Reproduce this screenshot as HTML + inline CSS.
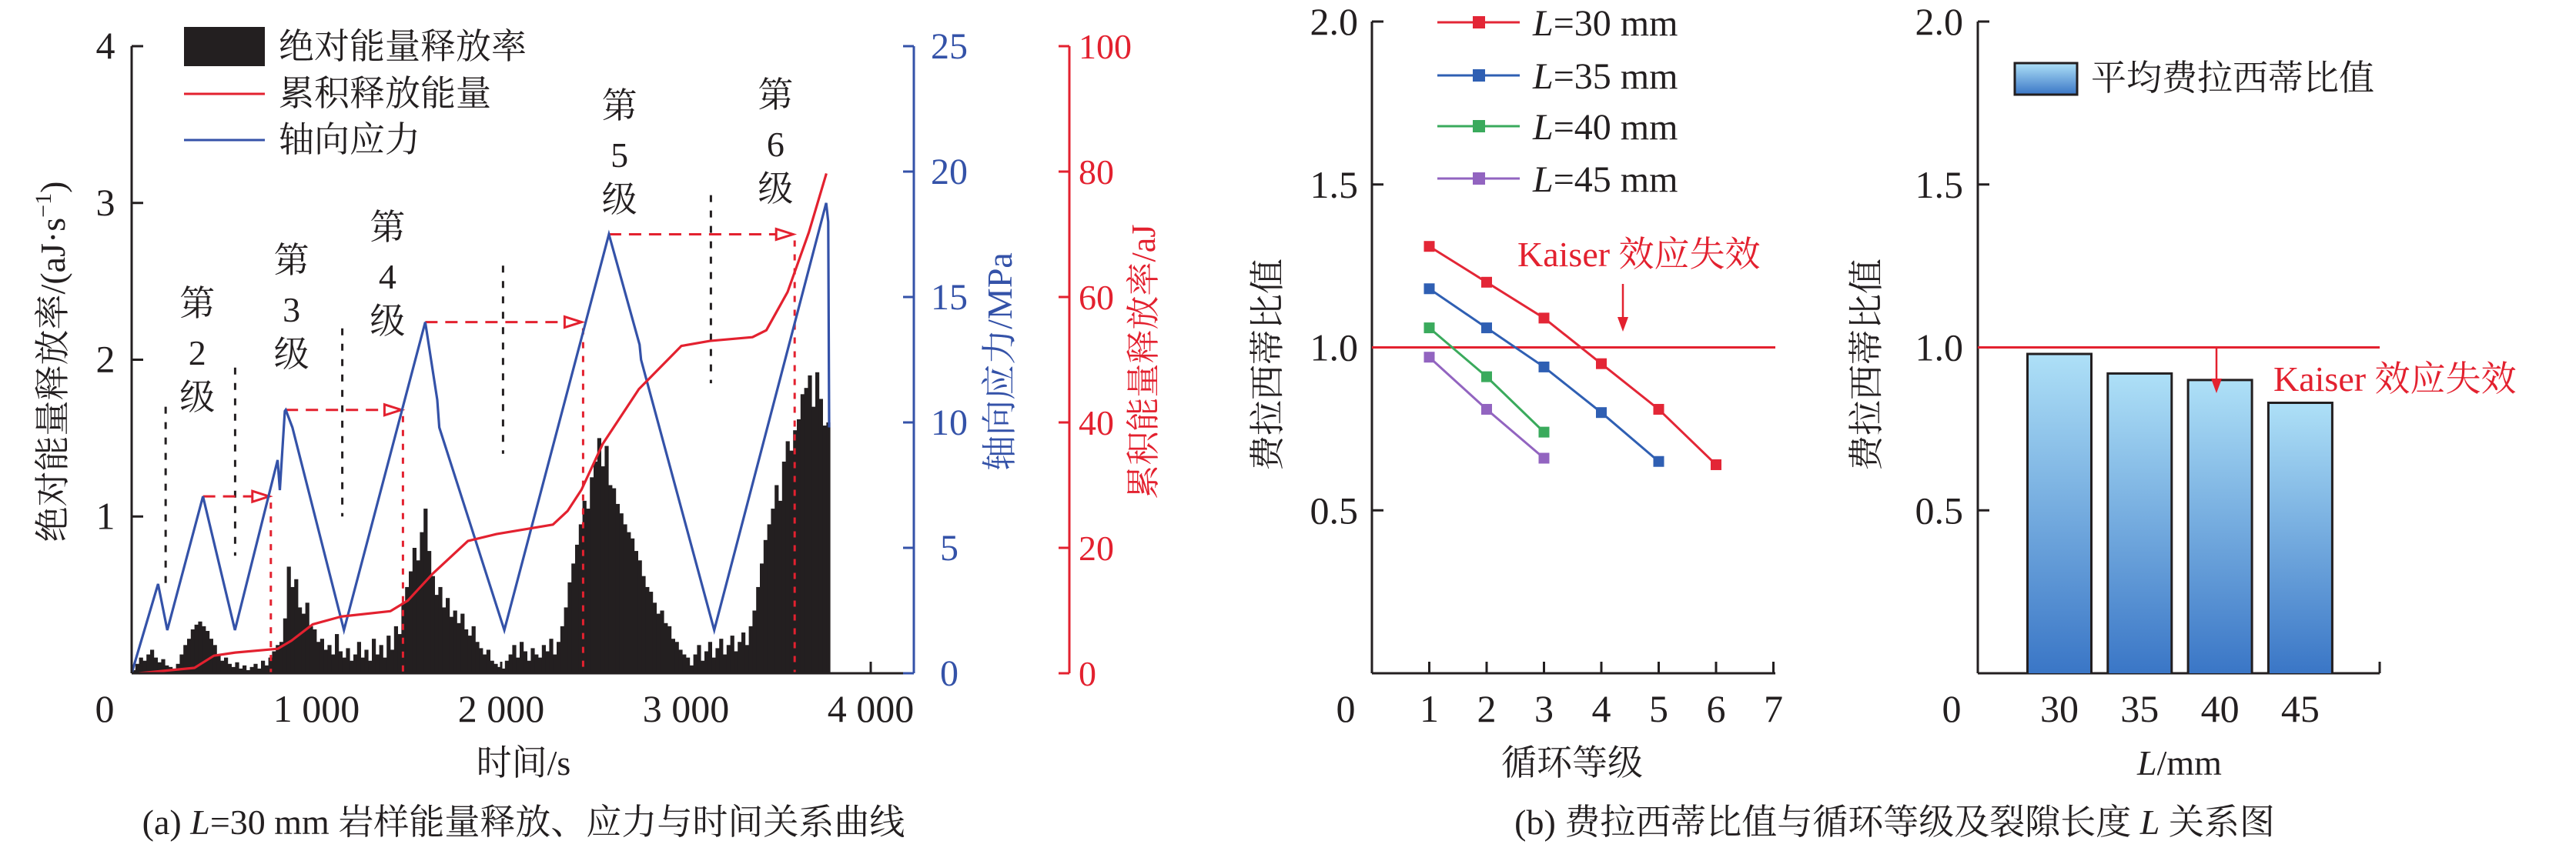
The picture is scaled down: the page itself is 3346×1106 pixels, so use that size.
<!DOCTYPE html>
<html><head><meta charset="utf-8">
<style>
html,body{margin:0;padding:0;background:#fff;}
svg{display:block;}
text{font-family:"Liberation Serif","Noto Serif CJK SC",serif;}
</style></head>
<body>
<svg id="chart" width="3346" height="1106" viewBox="0 0 3346 1106" xmlns="http://www.w3.org/2000/svg">
<defs>
<linearGradient id="barGrad" x1="0" y1="0" x2="0" y2="1">
<stop offset="0" stop-color="#aee0f7"/><stop offset="1" stop-color="#3a76c6"/>
</linearGradient>
</defs>
<g id="panelA"></g>
<g id="panelB"></g>
</svg>
<script>
// ---------- Panel (a) data ----------
const rateStep = 20; // seconds per bin
const rateValues = [
0.02,0.06,0.1,0.08,0.12,0.15,0.1,0.07,0.09,0.05,
0.04,0.03,0.06,0.12,0.18,0.22,0.28,0.31,0.33,0.3,
0.27,0.22,0.18,0.12,0.08,0.1,0.06,0.04,0.07,0.03,
0.05,0.02,0.04,0.06,0.03,0.08,0.05,0.1,0.14,0.18,
0.2,0.35,0.68,0.55,0.6,0.42,0.38,0.45,0.3,0.28,
0.2,0.22,0.15,0.18,0.12,0.25,0.14,0.1,0.16,0.08,
0.12,0.2,0.1,0.15,0.08,0.22,0.12,0.18,0.1,0.24,
0.15,0.3,0.25,0.45,0.55,0.65,0.8,0.72,0.9,1.05,
0.78,0.62,0.5,0.55,0.42,0.48,0.36,0.4,0.32,0.38,
0.28,0.24,0.3,0.2,0.16,0.12,0.15,0.08,0.06,0.04,
0.03,0.08,0.12,0.18,0.1,0.2,0.14,0.08,0.16,0.12,
0.1,0.18,0.14,0.22,0.12,0.2,0.3,0.42,0.58,0.7,
0.82,0.95,1.1,1.05,1.25,1.35,1.5,1.32,1.45,1.2,
1.18,1.08,1.02,0.95,0.9,0.86,0.78,0.72,0.62,0.55,
0.52,0.45,0.38,0.4,0.32,0.3,0.22,0.2,0.15,0.12,
0.1,0.05,0.12,0.18,0.08,0.14,0.2,0.1,0.16,0.22,
0.12,0.18,0.24,0.14,0.2,0.26,0.18,0.3,0.4,0.55,
0.7,0.85,0.95,1.05,1.2,1.1,1.35,1.48,1.42,1.55,
1.62,1.78,1.82,1.9,1.7,1.92,1.75,1.58,1.6];
const stressTimes = [0,143,193,386,559,790,802,829,834,870,1149,1589,1654,1665,2017,2583,2749,2757,3153,3759,3770,3775];
const stressValues = [0,3.56,1.72,7.05,1.72,8.5,7.3,10.45,10.5,9.8,1.72,14.0,10.9,9.8,1.72,17.5,13.1,12.5,1.72,18.75,18.0,9.8];
const cumTimes = [40,340,445,560,790,865,980,1135,1400,1495,1630,1820,1975,2280,2360,2435,2550,2745,2975,3130,3360,3435,3550,3665,3760];
const cumValues = [0,0.86,2.8,3.3,3.9,5.2,7.8,9.05,9.9,11.6,15.9,21.1,22.2,23.7,25.9,29.3,36.6,45.3,52.2,53,53.6,54.7,60.8,70.3,79.7];
const xTicksA = [0,1000,2000,3000,4000];
const xTickLabelsA = ["0","1 000","2 000","3 000","4 000"];
const leftTicks = [1,2,3,4];
const blueTicks = [0,5,10,15,20,25];
const redTicks = [0,20,40,60,80,100];
const boundaryTimes = [184,560,1140,2010,3135];
const boundaryTop = [1.7,1.95,2.2,2.6,3.05];
const boundaryBottom = [0.55,0.75,1.0,1.4,1.85];
const arrowStart = [386,834,1589,2583];
const arrowEnd = [745,1460,2435,3580];
const arrowStress = [7.05,10.5,14.0,17.5];
const levelTimes = [355,865,1385,2640,3485];
const levelNames = ["2","3","4","5","6"];
const levelTop = [394,338,295,137,123];

// ---------- Panel (b) data ----------
const cycleLevels = [1,2,3,4,5,6];
const seriesL30 = [1.31,1.20,1.09,0.95,0.81,0.64];
const seriesL35 = [1.18,1.06,0.94,0.80,0.65];
const seriesL40 = [1.06,0.91,0.74];
const seriesL45 = [0.97,0.81,0.66];
const seriesColors = ["#e32636","#2f5fb3","#3aaa5c","#9264c0"];
const seriesNames = ["L=30 mm","L=35 mm","L=40 mm","L=45 mm"];
const barCategories = ["30","35","40","45"];
const barValues = [0.98,0.92,0.90,0.83];
const yTicksB = [0.5,1.0,1.5,2.0];
const yTickLabelsB = ["0.5","1.0","1.5","2.0"];
const xTicksB = [1,2,3,4,5,6,7];

const NS="http://www.w3.org/2000/svg";
function mk(parent,tag,attrs,txt){const e=document.createElementNS(NS,tag);for(const k in attrs)e.setAttribute(k,attrs[k]);if(txt!==undefined)e.textContent=txt;parent.appendChild(e);return e;}

// scales (a)
const xA=t=>171+t*0.24;
const yL=v=>875-v*203.75;
const yBl=s=>875-s*32.6;
const yR=e=>875-e*8.15;
const BLUE="#3452a8", RED="#e3212f", DARK="#231f20";

const A=document.getElementById('panelA');
const barsG=mk(A,'g',{});


rateValues.forEach((v,i)=>{
  const x0=xA(i*rateStep), x1=xA((i+1)*rateStep);
  const r=mk(barsG,'rect',{x:x0,y:yL(v),width:x1-x0+0.4,height:875-yL(v),fill:DARK});
  
  
});
boundaryTimes.forEach((t,i)=>{
  const l=mk(A,'line',{x1:xA(t),x2:xA(t),y1:yL(boundaryTop[i]),y2:yL(boundaryBottom[i]),stroke:DARK,'stroke-width':3,'stroke-dasharray':'9 11'});
  
  
});
arrowStart.forEach((t,i)=>{
  const y=yBl(arrowStress[i]);
  const l=mk(A,'line',{x1:xA(t),x2:xA(arrowEnd[i])-22,y1:y,y2:y,stroke:RED,'stroke-width':3,'stroke-dasharray':'16 10'});
  
  
  const xe=xA(arrowEnd[i]);
  const h=mk(A,'polygon',{points:`${xe},${y} ${xe-22},${y-7} ${xe-22},${y+7}`,fill:'#fff',stroke:RED,'stroke-width':3});
  
  
  const v=mk(A,'line',{x1:xe+2,x2:xe+2,y1:y+8,y2:875,stroke:RED,'stroke-width':3,'stroke-dasharray':'8 10'});
  
  
});
const sp=mk(A,'polyline',{points:stressTimes.map((t,i)=>xA(t)+','+yBl(stressValues[i])).join(' '),fill:'none',stroke:BLUE,'stroke-width':3.2});


const cp=mk(A,'polyline',{points:cumTimes.map((t,i)=>xA(t)+','+yR(cumValues[i])).join(' '),fill:'none',stroke:RED,'stroke-width':3.2,'stroke-linejoin':'round'});


const axA=mk(A,'g',{stroke:DARK,'stroke-width':3});


mk(axA,'line',{x1:171,y1:875,x2:171,y2:60});
mk(axA,'line',{x1:171,y1:875,x2:1187,y2:875});
leftTicks.forEach(v=>mk(axA,'line',{x1:171,x2:186,y1:yL(v),y2:yL(v)}));
xTicksA.forEach(t=>mk(axA,'line',{x1:xA(t),x2:xA(t),y1:875,y2:860}));
leftTicks.forEach(v=>{
  const tx=mk(A,'text',{x:137,y:yL(v)+16,'font-size':50,'text-anchor':'middle',fill:DARK},String(v));
  
  
});
xTicksA.forEach((t,i)=>{
  const tx=mk(A,'text',{x:i===0?136:xA(t),y:938,'font-size':50,'text-anchor':'middle',fill:DARK},xTickLabelsA[i]);
  
  
});
const bx=mk(A,'g',{stroke:BLUE,'stroke-width':3});


mk(bx,'line',{x1:1187,y1:875,x2:1187,y2:60});
blueTicks.forEach(v=>{mk(bx,'line',{x1:1173,x2:1187,y1:yBl(v),y2:yBl(v)});
  const tx=mk(A,'text',{x:1233,y:yBl(v)+16,'font-size':48,'text-anchor':'middle',fill:BLUE,stroke:'none'},String(v));
  
  });
const rx=mk(A,'g',{stroke:RED,'stroke-width':3});


mk(rx,'line',{x1:1389,y1:875,x2:1389,y2:60});
redTicks.forEach(v=>{mk(rx,'line',{x1:1375,x2:1389,y1:yR(v),y2:yR(v)});
  const tx=mk(A,'text',{x:1401,y:yR(v)+16,'font-size':46,fill:RED,stroke:'none'},String(v));
  
  });
levelTimes.forEach((t,i)=>{
  const g=mk(A,'g',{'font-size':46,'text-anchor':'middle',fill:DARK});
  
  
  const x=xA(t), y=levelTop[i];
  mk(g,'text',{x:x,y:y+16},'第');mk(g,'text',{x:x,y:y+80},levelNames[i]);mk(g,'text',{x:x,y:y+138},'级');
});
</script>
<svg style="position:absolute;left:0;top:0" width="3346" height="1106" xmlns="http://www.w3.org/2000/svg">
<defs><linearGradient id="barGrad2" x1="0" y1="0" x2="0" y2="1"><stop offset="0" stop-color="#aee0f7"/><stop offset="1" stop-color="#3a76c6"/></linearGradient></defs>
<g font-family="Liberation Serif, Noto Serif CJK SC, serif">
<rect x="239" y="35" width="105" height="51" fill="#231f20"/>
<text x="362" y="76" font-size="46" fill="#231f20">绝对能量释放率</text>
<line x1="239" y1="122" x2="344" y2="122" stroke="#e3212f" stroke-width="3"/>
<text x="362" y="137" font-size="46" fill="#231f20">累积释放能量</text>
<line x1="239" y1="182" x2="344" y2="182" stroke="#3452a8" stroke-width="3"/>
<text x="362" y="197" font-size="46" fill="#231f20">轴向应力</text>
<text transform="translate(84,470) rotate(-90)" font-size="46" text-anchor="middle" fill="#231f20">绝对能量释放率/(aJ·s<tspan font-size="30" dy="-18">−1</tspan><tspan dy="18">)</tspan></text>
<text transform="translate(1314,470) rotate(-90)" font-size="46" text-anchor="middle" fill="#3452a8">轴向应力/MPa</text>
<text transform="translate(1500,470) rotate(-90)" font-size="44" text-anchor="middle" fill="#e3212f">累积能量释放率/aJ</text>
<text x="680" y="1007" font-size="46" text-anchor="middle" fill="#231f20">时间/s</text>
<text x="680" y="1084" font-size="46" text-anchor="middle" fill="#231f20">(a) <tspan font-style="italic">L</tspan>=30 mm 岩样能量释放、应力与时间关系曲线</text>
<text transform="translate(1662,474) rotate(-90)" font-size="46" text-anchor="middle" fill="#231f20">费拉西蒂比值</text>
<text transform="translate(2440,474) rotate(-90)" font-size="46" text-anchor="middle" fill="#231f20">费拉西蒂比值</text>
<text x="2042" y="1007" font-size="46" text-anchor="middle" fill="#231f20">循环等级</text>
<text x="2831" y="1007" font-size="46" text-anchor="middle" fill="#231f20"><tspan font-style="italic">L</tspan>/mm</text>
<text x="2461" y="1084" font-size="46" text-anchor="middle" fill="#231f20">(b) 费拉西蒂比值与循环等级及裂隙长度 <tspan font-style="italic">L</tspan> 关系图</text>
<text x="1971" y="346" font-size="46" fill="#e3212f">Kaiser 效应失效</text>
<text x="2953" y="508" font-size="46" fill="#e3212f">Kaiser 效应失效</text>
<rect x="2617" y="82" width="81" height="41" fill="url(#barGrad2)" stroke="#231f20" stroke-width="3"/>
<text x="2716" y="117" font-size="46" fill="#231f20">平均费拉西蒂比值</text>
</g>
</svg>
<script>
const B=document.getElementById('panelB');
const xC=c=>1782+c*74.5;
const yV=v=>875-v*423.5;
const xCat=i=>2675+i*104.3;
const axB=mk(B,'g',{stroke:DARK,'stroke-width':3});


mk(axB,'line',{x1:1782,y1:875,x2:1782,y2:28});
mk(axB,'line',{x1:1782,y1:875,x2:2306,y2:875});
yTicksB.forEach(v=>mk(axB,'line',{x1:1782,x2:1797,y1:yV(v),y2:yV(v)}));
xTicksB.forEach(c=>mk(axB,'line',{x1:xC(c),x2:xC(c),y1:875,y2:860}));
yTicksB.forEach((v,i)=>{
  const t=mk(B,'text',{x:1764,y:yV(v)+17,'font-size':50,'text-anchor':'end',fill:DARK},yTickLabelsB[i]);
  
  
  const t2=mk(B,'text',{x:2550,y:yV(v)+17,'font-size':50,'text-anchor':'end',fill:DARK},yTickLabelsB[i]);
  
  
});
let z=mk(B,'text',{x:1748,y:938,'font-size':50,'text-anchor':'middle',fill:DARK},'0');


z=mk(B,'text',{x:2535,y:938,'font-size':50,'text-anchor':'middle',fill:DARK},'0');


xTicksB.forEach(c=>{
  const t=mk(B,'text',{x:xC(c),y:938,'font-size':50,'text-anchor':'middle',fill:DARK},String(c));
  
  
});
let rl=mk(B,'line',{x1:1782,x2:2306,y1:yV(1),y2:yV(1),stroke:RED,'stroke-width':3});


[seriesL30,seriesL35,seriesL40,seriesL45].forEach((s,k)=>{
  const g=mk(B,'g',{});
  
  
  mk(g,'polyline',{points:s.map((v,i)=>xC(cycleLevels[i])+','+yV(v)).join(' '),fill:'none',stroke:seriesColors[k],'stroke-width':3});
  s.forEach((v,i)=>{
    const m=mk(g,'rect',{x:xC(cycleLevels[i])-7,y:yV(v)-7,width:14,height:14,fill:seriesColors[k]});
    
    
  });
  const ly=[29,98,164,232][k];
  const lg=mk(B,'g',{});
  
  
  mk(lg,'line',{x1:1867,x2:1974,y1:ly,y2:ly,stroke:seriesColors[k],'stroke-width':3});
  mk(lg,'rect',{x:1913,y:ly-8,width:16,height:16,fill:seriesColors[k]});
  const parts=seriesNames[k].split('=');
  const lt=mk(lg,'text',{x:1991,y:ly+17,'font-size':48,fill:DARK});
  mk(lt,'tspan',{'font-style':'italic'},parts[0]);
  mk(lt,'tspan',{},'='+parts[1]);
});
let ar=mk(B,'line',{x1:2108,x2:2108,y1:369,y2:418,stroke:RED,'stroke-width':2.5});


mk(B,'polygon',{points:'2108,431 2101,412 2115,412',fill:RED});
const axC=mk(B,'g',{stroke:DARK,'stroke-width':3});


barValues.forEach((v,i)=>{
  const r=mk(B,'rect',{x:xCat(i)-41.5,y:yV(v),width:83,height:875-yV(v),fill:'url(#barGrad)'});
  
  
  const e=mk(B,'polyline',{points:`${xCat(i)-41.5},875 ${xCat(i)-41.5},${yV(v)} ${xCat(i)+41.5},${yV(v)} ${xCat(i)+41.5},875`,fill:'none',stroke:DARK,'stroke-width':3});
  
  
  const t=mk(B,'text',{x:xCat(i),y:938,'font-size':50,'text-anchor':'middle',fill:DARK},barCategories[i]);
  
  
  mk(axC,'line',{x1:xCat(i),x2:xCat(i),y1:875,y2:860});
});
mk(axC,'line',{x1:2569,y1:875,x2:2569,y2:28});
mk(axC,'line',{x1:2569,y1:875,x2:3091,y2:875});
mk(axC,'line',{x1:3091,y1:875,x2:3091,y2:860});
yTicksB.forEach(v=>mk(axC,'line',{x1:2569,x2:2584,y1:yV(v),y2:yV(v)}));
rl=mk(B,'line',{x1:2569,x2:3091,y1:yV(1),y2:yV(1),stroke:RED,'stroke-width':3});


ar=mk(B,'line',{x1:2879,x2:2879,y1:452,y2:498,stroke:RED,'stroke-width':2.5});


mk(B,'polygon',{points:'2879,511 2872,492 2886,492',fill:RED});
</script>
</body></html>
